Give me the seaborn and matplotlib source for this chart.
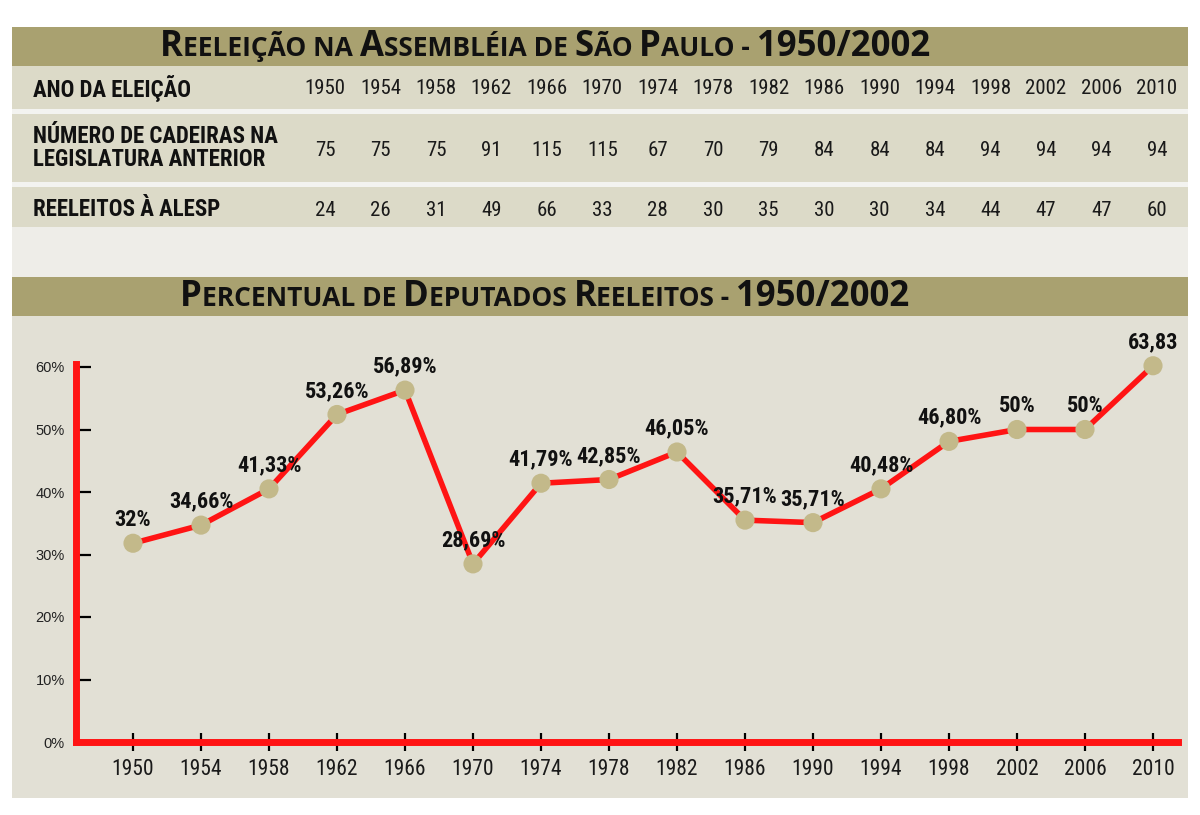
import matplotlib
matplotlib.use("Agg")
import matplotlib.pyplot as plt
from matplotlib.patches import Rectangle
from matplotlib import font_manager
import pandas as pd
import seaborn as sns

# data
years = ["1950", "1954", "1958", "1962", "1966", "1970", "1974", "1978",
         "1982", "1986", "1990", "1994", "1998", "2002", "2006", "2010"]
cadeiras = [75, 75, 75, 91, 115, 115, 67, 70, 79, 84, 84, 84, 94, 94, 94, 94]
reeleitos = [24, 26, 31, 49, 66, 33, 28, 30, 35, 30, 30, 34, 44, 47, 47, 60]
# where the dots sit on the chart
pct_plot = [31.8, 34.7, 40.5, 52.4, 56.3, 28.5, 41.4, 42.0,
            46.4, 35.5, 35.1, 40.5, 48.1, 50.0, 50.0, 60.2]
pct_labels = ["32%", "34,66%", "41,33%", "53,26%", "56,89%", "28,69%", "41,79%", "42,85%",
              "46,05%", "35,71%", "35,71%", "40,48%", "46,80%", "50%", "50%", "63,83"]
row_labels = ["ANO DA ELEIÇÃO", "NÚMERO DE CADEIRAS NA\nLEGISLATURA ANTERIOR", "REELEITOS À ALESP"]
y_ticks = [0, 10, 20, 30, 40, 50, 60]
title1 = "Reeleição na Assembléia de São Paulo - 1950/2002"
title2 = "Percentual de Deputados Reeleitos - 1950/2002"

df = pd.DataFrame({"ano": years, "pct": pct_plot})
df["pos"] = range(len(df))

sns.set_style("white")

# pick a narrow family if one is installed
installed = {f.name for f in font_manager.fontManager.ttflist}
narrow_pick = [n for n in ["Liberation Sans Narrow", "DejaVu Sans Condensed", "Roboto Condensed",
                           "Noto Sans Condensed", "Open Sans Condensed"] if n in installed]
NARROW = narrow_pick[:1] + ["DejaVu Sans"]
TITLE_FONT = ["Open Sans", "DejaVu Sans"]

BANNER = "#a9a170"
BAND = "#dcdac8"
LIGHT = "#eeede8"
PANEL = "#e2e0d5"
RED = "#ff1414"
DOT = "#c3b98a"

W, H = 1200, 815
fig = plt.figure(figsize=(12, 8.15), dpi=100)
fig.patch.set_facecolor("white")


def fx(px):
    return px / W


def fy(py):
    return 1 - py / H


def band(top, bottom, color, left=12, right=1188):
    fig.patches.append(Rectangle((fx(left), fy(bottom)), fx(right - left), (bottom - top) / H,
                                 transform=fig.transFigure, facecolor=color, edgecolor="none", zorder=-5))


# backgrounds
band(27, 66, BANNER)
band(66, 109, BAND)
band(109, 114, "#f3f3f0")
band(114, 182, BAND)
band(182, 187, "#f3f3f0")
band(187, 227, BAND)
band(227, 277, LIGHT)
band(277, 316, BANNER)
band(316, 798, PANEL)

renderer = fig.canvas.get_renderer()


def caps_title(text, y_px, cx_px=545, big=25, small=19):
    # fake small caps: capitals/digits big, the rest upper-cased smaller
    parts = []
    for ch in text:
        is_big = ch.isupper() or ch.isdigit() or ch == "/"
        s = ch if is_big else ch.upper()
        if parts and parts[-1][1] == is_big:
            parts[-1][0] += s
        else:
            parts.append([s, is_big])
    pieces = []
    x = 0
    for s, is_big in parts:
        t = fig.text(0, fy(y_px), s, fontsize=big if is_big else small, fontweight="bold",
                     family=TITLE_FONT, va="baseline", color="#111111")
        w = t.get_window_extent(renderer).width
        pieces.append((t, x))
        x += w
    start = cx_px - x / 2
    for t, off in pieces:
        t.set_x(fx(start + off))


caps_title(title1, 56)
caps_title(title2, 306)

# table
tab = fig.add_axes([fx(12), fy(227), fx(1176), (227 - 66) / H])
tab.set_xlim(-(325 - 12) / 55.47, 15 + (1188 - 1157) / 55.47)
tab.set_ylim(227, 66)
tab.axis("off")
row_y = [89, 150, 210]
rows = [years, cadeiras, reeleitos]
for ry, vals in zip(row_y, rows):
    for i, v in enumerate(vals):
        tab.text(i, ry, str(v), ha="center", va="center", fontsize=15, fontstretch="condensed",
                 family=NARROW, color="#1a1a1a")
for ry, lab in zip([88, 148, 209], row_labels):
    fig.text(fx(33), fy(ry), lab, ha="left", va="center", fontsize=16.5, fontweight="bold",
             fontstretch="condensed", family=NARROW, color="#111111", linespacing=1.0)

# chart
ax = fig.add_axes([fx(76), fy(742), (1178 - 76) / W, (742 - 320) / H])
ax.set_facecolor("none")
sns.lineplot(data=df, x="pos", y="pct", color=RED, linewidth=4, ax=ax, zorder=3)
sns.scatterplot(data=df, x="pos", y="pct", color=DOT, s=190, edgecolor="none", ax=ax, zorder=4)

for i, row in df.iterrows():
    ax.annotate(pct_labels[i], (row["pos"], row["pct"]), xytext=(0, 17), textcoords="offset points",
                ha="center", va="center", fontsize=16, fontweight="bold", fontstretch="condensed",
                family=NARROW, color="#111111", zorder=5)

ax.set_xlim(-(133 - 76) / 68, 15 + (1178 - 1153) / 68)
ax.set_ylim(0, (742 - 320) / 6.25)
ax.set_xticks(df["pos"])
ax.set_xticklabels(years, fontsize=15.5, family=NARROW, fontstretch="condensed", color="#1a1a1a")
ax.set_yticks(y_ticks)
ax.set_yticklabels([f"{t}%" for t in y_ticks], fontsize=10.5, family=["Liberation Sans", "DejaVu Sans"],
                   color="#222222")
ax.tick_params(axis="x", bottom=True, direction="inout", length=12.5, width=1.6, color="black", pad=6)
ax.tick_params(axis="y", left=True, direction="in", length=11, width=1.6, color="black", pad=8)
ax.set_xlabel("")
ax.set_ylabel("")
for side in ["top", "right"]:
    ax.spines[side].set_visible(False)
for side in ["left", "bottom"]:
    ax.spines[side].set_color(RED)
    ax.spines[side].set_linewidth(5)
    ax.spines[side].set_zorder(1)
ax.spines["left"].set_bounds(0, 60.5)

fig.savefig("out.png", dpi=100)
